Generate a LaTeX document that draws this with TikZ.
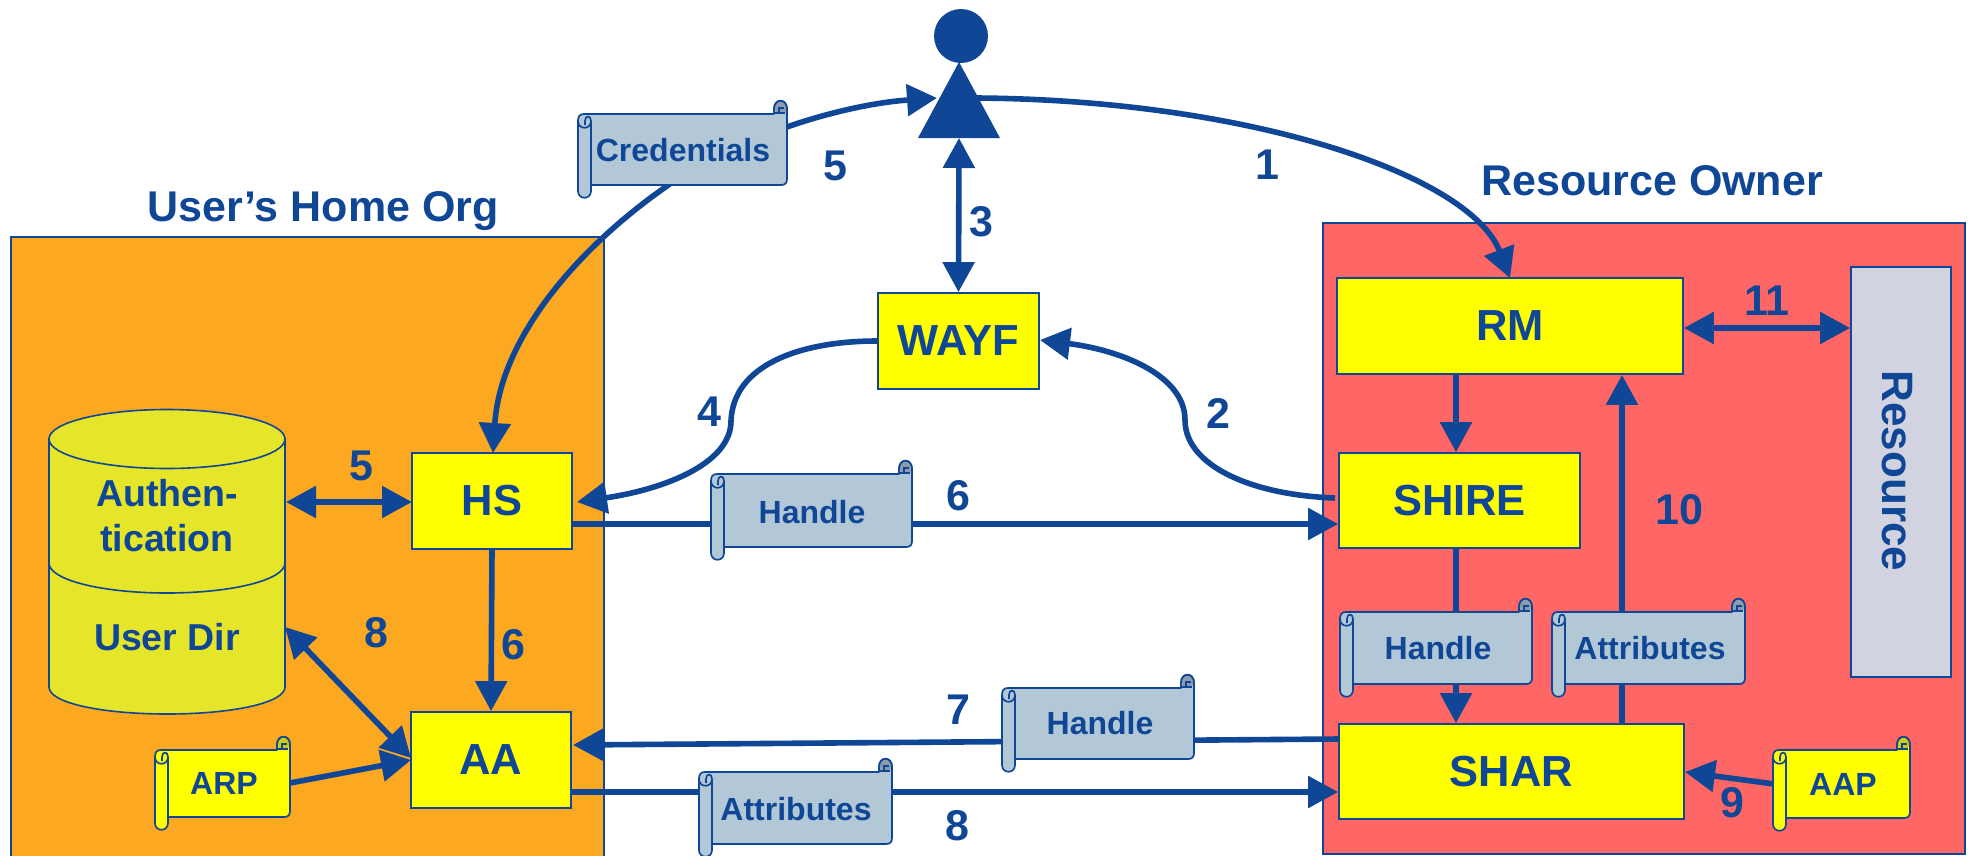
\documentclass[tikz,border=0pt]{standalone}
\usepackage{fontspec}
\setmainfont{Liberation Sans}
\usetikzlibrary{arrows.meta,calc}
\definecolor{navy}{HTML}{0F4696}
\definecolor{orgorange}{HTML}{FCA821}
\definecolor{ownerred}{HTML}{FF6666}
\definecolor{boxyellow}{HTML}{FFFF00}
\definecolor{cylyellow}{HTML}{E5E52A}
\definecolor{scrollblue}{HTML}{B2C8D6}
\definecolor{curlblue}{HTML}{8C9CAA}
\definecolor{curlyellow}{HTML}{CCCC10}
\definecolor{resgrey}{HTML}{D1D3E0}
\tikzset{
  region/.style={draw=navy,line width=1.6pt},
  boxnode/.style={draw=navy,line width=1.8pt,fill=boxyellow,inner sep=0pt,text=navy,font=\bfseries\fontsize{43.5}{48}\selectfont},
  conn/.style={draw=navy,line width=5.6pt},
  toarrow/.style={conn,-{Triangle[length=30pt,width=31pt]}},
  twoarrow/.style={conn,{Triangle[length=30pt,width=31pt]}-{Triangle[length=30pt,width=31pt]}},
  numlabel/.style={text=navy,inner sep=0pt,font=\bfseries\fontsize{43}{48}\selectfont},
  titlelabel/.style={text=navy,inner sep=0pt,font=\bfseries\fontsize{43}{48}\selectfont},
  scrolltext/.style={text=navy,inner sep=0pt,font=\bfseries\fontsize{32}{36}\selectfont},
  cyltext/.style={text=navy,inner sep=0pt,align=center,font=\bfseries\fontsize{37.5}{45}\selectfont},
  scrollline/.style={draw=navy,line width=1.7pt,line join=round}
}
% #1 name  #2 x1  #3 y1  #4 x2  #5 y2  #6 fill  #7 curl fill  #8 text  #9 text position
\newcommand{\scrl}[9]{%
  \path[scrollline,fill=#6]
    (#2+6,#3) -- (#4-13,#3) -- (#4-13,#3-5)
    .. controls (#4-13,#3-16) and (#4,#3-16) .. (#4,#3-5)
    -- (#4,#5-6) .. controls (#4,#5-2) and (#4-2,#5) .. (#4-6,#5)
    -- (#2+13,#5) -- (#2+13,#5+6)
    .. controls (#2+13,#5+15) and (#2,#5+15) .. (#2,#5+6)
    -- (#2,#3+7) .. controls (#2,#3+2) and (#2+2,#3) .. (#2+6,#3) -- cycle;
  \path[scrollline] (#2+13,#5) -- (#2+13,#3+7);
  \path[scrollline] (#2,#3+7) .. controls (#2,#3+16) and (#2+13,#3+16) .. (#2+13,#3+7)
    .. controls (#2+13,#3+1) and (#2+7,#3+1) .. (#2+7,#3+7) -- (#2+7,#3+11);
  \path[fill=#7] (#4-6.5,#3-6) circle[radius=6pt];
  \path[draw=navy,line width=1.3pt] (#4-13,#3-1) -- (#4-2,#3-1)
    (#4-8,#3) -- (#4-8,#3-6) -- (#4-3,#3-6);
  \path[scrollline] (#4-13,#3-5)
    .. controls (#4-13,#3-16) and (#4,#3-16) .. (#4,#3-5) -- (#4,#3+2);
  \node[scrolltext] (#1) at (#9) {#8};
}
\begin{document}
\begin{tikzpicture}[x=1pt,y=-1pt]
\useasboundingbox (0,0) rectangle (1968,855);
\clip (0,0) rectangle (1968,855);
% regions
\path[region,fill=orgorange] (11,237) rectangle (604,880);
\path[region,fill=ownerred] (1323,223) rectangle (1965,854);
\node[titlelabel,anchor=base] (orgtitle) at (323,221) {User’s Home Org};
\node[titlelabel,anchor=base] (ownertitle) at (1652,195) {Resource Owner};
% cylinder
\path[draw=navy,line width=1.6pt,fill=cylyellow]
  (49,439) -- (49,687) .. controls (49,703) and (102,714) .. (167,714)
  .. controls (232,714) and (285,703) .. (285,687) -- (285,439) -- cycle;
\path[draw=navy,line width=1.6pt,fill=cylyellow] (167,439) ellipse[x radius=118pt,y radius=29.5pt];
\path[draw=navy,line width=1.6pt] (49,563) .. controls (49,580) and (102,593) .. (167,593)
  .. controls (232,593) and (285,580) .. (285,563);
\node[cyltext] (authtext) at (167,516) {Authen-\\tication};
\node[cyltext] (dirtext) at (167,637) {User Dir};
% person
\node[circle,fill=navy,inner sep=0pt,minimum size=54pt] (head) at (961,36) {};
\path[fill=navy] (959,62) -- (1000,138) -- (918,138) -- cycle;
\coordinate (bodyleft) at (937,98);
\coordinate (bodyright) at (977,98);
\coordinate (bodybase) at (959,138);
% boxes
\node[boxnode,minimum width=161pt,minimum height=96pt] (wayf) at (958.5,341) {WAYF};
\node[boxnode,minimum width=160pt,minimum height=96pt] (hs) at (492,501) {HS};
\node[boxnode,minimum width=160pt,minimum height=96pt] (aa) at (491,760) {AA};
\node[boxnode,minimum width=346pt,minimum height=96pt] (rm) at (1510,326) {RM};
\node[boxnode,minimum width=241pt,minimum height=95pt] (shire) at (1459.5,500.5) {SHIRE};
\node[boxnode,minimum width=345pt,minimum height=95pt] (shar) at (1511.5,771.5) {SHAR};
\node[draw=navy,line width=1.8pt,fill=resgrey,inner sep=0pt,minimum width=100pt,minimum height=410pt,text=navy] (res) at (1901,472) {};
\node[rotate=-90,text=navy,inner sep=0pt,font=\bfseries\fontsize{44}{48}\selectfont] (restext) at (1897,471) {Resource};
% named free ends
\coordinate (cred1) at (787,127);
\coordinate (cred2) at (667,186);
\coordinate (hstip) at (493,453);
\coordinate (onetip) at (1510,278);
\coordinate (cyl5) at (286,502);
\coordinate (cyl8) at (285,627);
\coordinate (aain) at (411,758);
\coordinate (arpout) at (290,783);
\coordinate (arpin) at (411,760);
\coordinate (hs5) at (412,502);
\coordinate (fourmid) at (731,421);
\coordinate (fourtip) at (577,502);
\coordinate (twomid) at (1185,420);
\coordinate (twostart) at (1335,498);
\coordinate (twotip) at (1040,340);
\coordinate (sixy) at (0,524);
\coordinate (sevenl) at (573,745);
\coordinate (sevenr) at (1339,739);
\coordinate (eighty) at (0,792);
\coordinate (rmx) at (1456,0);
\coordinate (attx) at (1622,0);
\coordinate (eleveny) at (0,328);
\coordinate (aapout) at (1774,784);
\coordinate (sharin) at (1685,772);
% connectors
\draw[twoarrow] (bodybase) -- (wayf.north);
\draw[toarrow] (bodyright) .. controls (1250,100) and (1470,175) .. (onetip);
\draw[conn,{Triangle[length=30pt,width=31pt]}-] (bodyleft) .. controls (865,103) and (815,117) .. (cred1)
  .. controls (750,140) and (710,155) .. (cred2);
\draw[toarrow] (cred2) .. controls (575,250) and (500,340) .. (hstip);
\draw[conn] (wayf.west) .. controls (800,341) and (733,365) .. (fourmid);
\draw[toarrow] (fourmid) .. controls (731,465) and (660,490) .. (fourtip);
\draw[conn] (twostart) .. controls (1250,495) and (1185,465) .. (twomid);
\draw[toarrow] (twomid) .. controls (1185,375) and (1120,350) .. (twotip);
\draw[twoarrow] (cyl5) -- (hs5);
\draw[toarrow] (hs.south) -- (aa.north);
\draw[twoarrow] (cyl8) -- (aain);
\draw[toarrow] (arpout) -- (arpin);
\draw[toarrow] (hs.east |- sixy) -- (shire.west |- sixy);
\draw[toarrow] (sevenr) -- (sevenl);
\draw[toarrow] (aa.east |- eighty) -- (shar.west |- eighty);
\draw[toarrow] (rm.south -| rmx) -- (shire.north -| rmx);
\draw[toarrow] (shire.south -| rmx) -- (shar.north -| rmx);
\draw[toarrow] (shar.north -| attx) -- (rm.south -| attx);
\draw[twoarrow] (rm.east |- eleveny) -- (res.west |- eleveny);
\draw[toarrow] (aapout) -- (sharin);
% scrolls
\scrl{credtext}{578}{114}{787}{185}{scrollblue}{curlblue}{Credentials}{683,150}
\scrl{handletop}{711}{474}{912}{547}{scrollblue}{curlblue}{Handle}{812,512}
\scrl{handlemid}{1002}{688}{1194}{759}{scrollblue}{curlblue}{Handle}{1100,723}
\scrl{attrlow}{699}{772}{892}{844}{scrollblue}{curlblue}{Attributes}{796,809}
\scrl{handleright}{1340}{612}{1532}{684}{scrollblue}{curlblue}{Handle}{1438,648}
\scrl{attrright}{1552}{612}{1745}{684}{scrollblue}{curlblue}{Attributes}{1650,648}
\scrl{arptext}{155}{750}{290}{817}{boxyellow}{curlyellow}{ARP}{224,783}
\scrl{aaptext}{1773}{750}{1910}{818}{boxyellow}{curlyellow}{AAP}{1843,784}
% numbers
\node[numlabel] (n5a) at (835,166) {5};
\node[numlabel] (n3) at (981,222) {3};
\node[numlabel] (n1) at (1267,165) {1};
\node[numlabel] (n2) at (1218,413) {2};
\node[numlabel] (n4) at (709,412) {4};
\node[numlabel] (n5b) at (361,466) {5};
\node[numlabel] (n6a) at (958,496) {6};
\node[numlabel] (n6b) at (513,645) {6};
\node[numlabel] (n8a) at (376,633) {8};
\node[numlabel] (n7) at (958,710) {7};
\node[numlabel] (n8b) at (957,826) {8};
\node[numlabel] (n10) at (1679,510) {10};
\node[numlabel] (n9) at (1732,803) {9};
\node[numlabel] (n11) at (1767,301) {11};
\end{tikzpicture}
\end{document}
